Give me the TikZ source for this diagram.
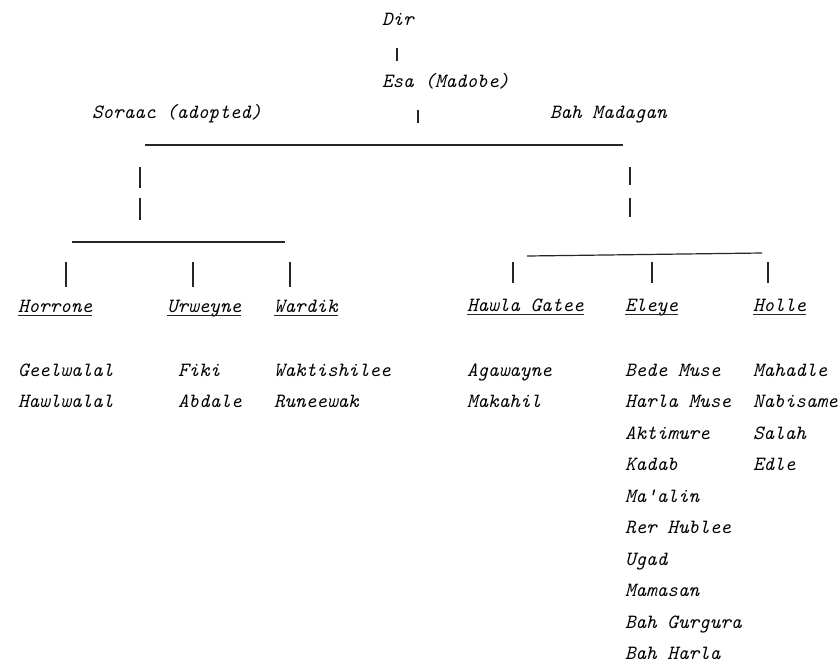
\documentclass[tikz,border=0pt]{standalone}
\usepackage{fontspec}
\begin{document}
\begin{tikzpicture}[x=1pt,y=-1pt,
  clan/.style={anchor=base west,inner sep=0pt,outer sep=0pt,
    font=\ttfamily\itshape\fontsize{20.2}{22}\selectfont\addfontfeature{FakeBold=0.8},text=black},
  bar/.style={line width=1.6pt,black!85},
  rule/.style={line width=1.2pt,black!85},
  uline/.style={line width=1pt,black!85}]
\useasboundingbox[fill=white] (0,0) rectangle (840,665);

% top of the lineage
\node[clan] (dir) at (382,25) {Dir};
\node[clan] (esa) at (382,87) {Esa (Madobe)};
\node[clan] (soraac) at (92,118) {Soraac (adopted)};
\node[clan] (bah) at (550,118) {Bah Madagan};

\coordinate (d1) at (397,48);  \coordinate (d2) at (397,61);
\draw[bar] (d1) -- (d2);
\coordinate (e1) at (418,110); \coordinate (e2) at (418,123);
\draw[bar] (e1) -- (e2);
\coordinate (m1) at (145,145); \coordinate (m2) at (623,145);
\draw[rule] (m1) -- (m2);

% branch descending to the Soraac side
\coordinate (la1) at (140,167); \coordinate (la2) at (140,188);
\coordinate (lb1) at (140,198); \coordinate (lb2) at (140,220);
\draw[bar] (la1) -- (la2);
\draw[bar] (lb1) -- (lb2);
\coordinate (l1) at (72,242); \coordinate (l2) at (285,242);
\draw[rule] (l1) -- (l2);

% branch descending to the Bah Madagan side
\coordinate (ra1) at (630,167); \coordinate (ra2) at (630,185);
\coordinate (rb1) at (630,198); \coordinate (rb2) at (630,217);
\draw[bar] (ra1) -- (ra2);
\draw[bar] (rb1) -- (rb2);
\coordinate (r1) at (527,256); \coordinate (r2) at (762,253);
\draw[rule] (r1) -- (r2);

% child ticks
\foreach \x/\n in {66/ha,193/hb,290/hc}{
  \coordinate (\n1) at (\x,262); \coordinate (\n2) at (\x,287);
  \draw[bar] (\n1) -- (\n2);}
\foreach \x/\n in {513/ka,652/kb,768/kc}{
  \coordinate (\n1) at (\x,262); \coordinate (\n2) at (\x,283);
  \draw[bar] (\n1) -- (\n2);}

% underlined sub-clan headings
\node[clan] (horrone) at (18,312) {Horrone};
\node[clan] (urweyne) at (167,312) {Urweyne};
\node[clan] (wardik) at (274,312) {Wardik};
\node[clan] (hawla) at (467,311) {Hawla Gatee};
\node[clan] (eleye) at (625,311) {Eleye};
\node[clan] (holle) at (753,311) {Holle};
\foreach \n in {horrone,urweyne,wardik,hawla,eleye,holle}{
  \draw[uline] ([yshift=-3.5pt]\n.base west) -- ([yshift=-3.5pt]\n.base east);}

% lineages under each heading
\foreach \x/\col/\list in {
   18/a/{Geelwalal,Hawlwalal},
  178/b/{Fiki,Abdale},
  274/c/{Waktishilee,Runeewak},
  467/d/{Agawayne,Makahil},
  625/e/{Bede Muse,Harla Muse,Aktimure,Kadab,Ma'alin,Rer Hublee,Ugad,Mamasan,Bah Gurgura,Bah Harla},
  753/f/{Mahadle,Nabisame,Salah,Edle}}{
  \foreach \t [count=\i from 0] in \list{
    \node[clan] (\col\i) at (\x,376+31.5*\i) {\t};}}
\end{tikzpicture}
\end{document}
